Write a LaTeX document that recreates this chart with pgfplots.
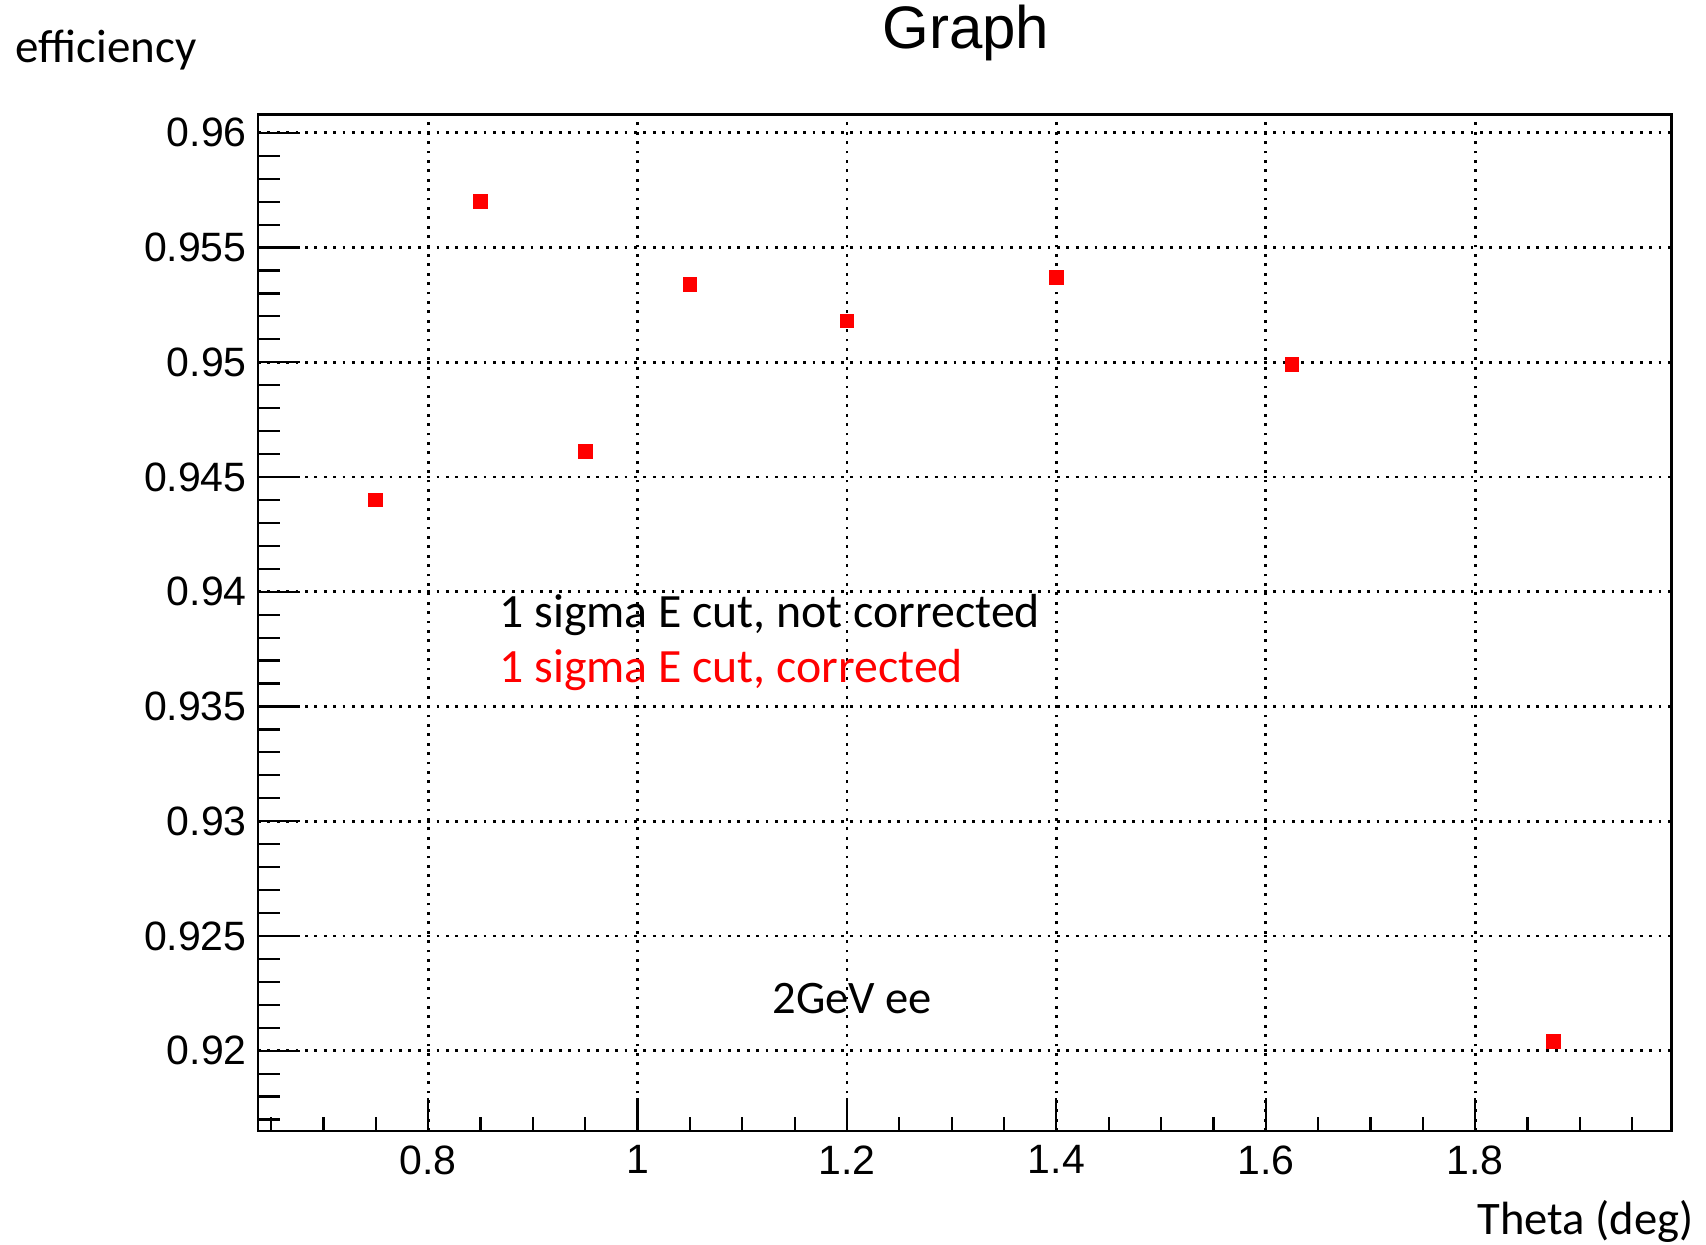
\documentclass[border=0pt]{standalone}
\usepackage{fontspec}
\setmainfont{Liberation Sans}
\newfontfamily\calfont{Carlito}
\usepackage{pgfplots}
\pgfplotsset{compat=1.18}
\begin{document}
\begin{tikzpicture}[x=1bp,y=1bp]
\path[use as bounding box] (0,0) rectangle (853,622.5);
\begin{axis}[
  at={(129bp,57bp)}, anchor=south west,
  scale only axis, width=706.75bp, height=508.25bp,
  xmin=0.6375, xmax=1.9875, ymin=0.9165, ymax=0.9608,
  xtick={0.8,1,1.2,1.4,1.6,1.8},
  ytick={0.92,0.925,0.93,0.935,0.94,0.945,0.95,0.955,0.96},
  minor xtick={0.65,0.7,0.75,0.85,0.9,0.95,1.05,1.1,1.15,1.25,1.3,1.35,1.45,1.5,1.55,1.65,1.7,1.75,1.85,1.9,1.95},
  minor ytick={0.917,0.918,0.919,0.921,0.922,0.923,0.924,0.926,0.927,0.928,0.929,0.931,0.932,0.933,0.934,0.936,0.937,0.938,0.939,0.941,0.942,0.943,0.944,0.946,0.947,0.948,0.949,0.951,0.952,0.953,0.954,0.956,0.957,0.958,0.959},
  scaled ticks=false,
  /pgf/number format/fixed, /pgf/number format/precision=3,
  /pgf/number format/assume math mode=true,
  tick label style={font=\fontsize{20.5bp}{22bp}\selectfont},
  yticklabel style={inner sep=0pt, xshift=-5.5bp},
  xticklabel style={inner sep=0pt, yshift=-7bp},
  tick align=inside, xtick pos=bottom, ytick pos=left,
  tick style={black, line width=1.1bp},
  xtick style={/pgfplots/major tick length=16.3bp, /pgfplots/minor tick length=7.2bp},
  ytick style={/pgfplots/major tick length=20.8bp, /pgfplots/minor tick length=10.8bp},
  grid=major,
  major grid style={black, line width=1.4bp, dash pattern=on 1.4bp off 3.3bp},
  axis line style={black, line width=1.35bp},
]
\addplot[only marks, mark=square*, mark size=3.4bp, mark options={fill=red, draw=red, line width=0pt}]
coordinates {
(0.75,0.9440)
(0.85,0.9570)
(0.95,0.9461)
(1.05,0.9534)
(1.2,0.9518)
(1.4,0.9537)
(1.625,0.9499)
(1.875,0.9204)
};
\end{axis}
\node[anchor=base west, inner sep=0pt, font=\fontsize{30bp}{32bp}\selectfont] at (441,598) {Graph};
\node[anchor=base west, inner sep=0pt, font=\calfont\fontsize{23.5bp}{25bp}\selectfont] at (7.5,591) {efficiency};
\node[anchor=base east, inner sep=0pt, font=\calfont\fontsize{23.3bp}{25bp}\selectfont] at (847,5) {Theta (deg)};
\node[anchor=base west, inner sep=0pt, font=\calfont\fontsize{23.9bp}{25bp}\selectfont] at (249.5,308.5) {1 sigma E cut, not corrected};
\node[anchor=base west, inner sep=0pt, text=red, font=\calfont\fontsize{23.9bp}{25bp}\selectfont] at (249.5,281) {1 sigma E cut, corrected};
\node[anchor=base west, inner sep=0pt, font=\calfont\fontsize{23.3bp}{25bp}\selectfont] at (386,115.5) {2GeV ee};
\end{tikzpicture}
\end{document}
